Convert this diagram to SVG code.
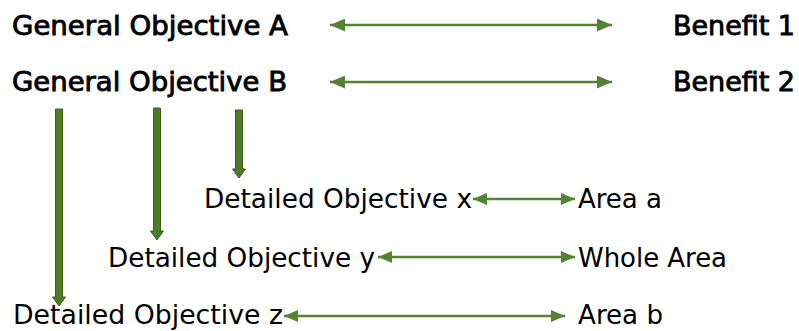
<svg xmlns="http://www.w3.org/2000/svg" width="799" height="331" viewBox="0 0 799 331">
<style>
text{font-family:"DejaVu Sans Condensed","DejaVu Sans",sans-serif;font-stretch:condensed;fill:#000}
.g{font-size:27px;stroke:#000;stroke-width:0.8}
.d{font-size:26px}
.h{stroke:#548235;stroke-width:2.5;fill:none}
.v{fill:#4f7b29;stroke:#3b5b1d;stroke-width:1}
</style>
<defs>
<marker id="ah" viewBox="0 0 15 13" refX="15" refY="6.5" markerWidth="15" markerHeight="13" markerUnits="userSpaceOnUse" orient="auto-start-reverse">
<path d="M0,0 L15,6.5 L0,13 Z" fill="#548235"/>
</marker>
<marker id="as" viewBox="0 0 14 12" refX="14" refY="6" markerWidth="14" markerHeight="12" markerUnits="userSpaceOnUse" orient="auto-start-reverse">
<path d="M0,0 L14,6 L0,12 Z" fill="#548235"/>
</marker>
</defs>
<g id="goA"><text class="g" x="12" y="35" textLength="276" lengthAdjust="spacingAndGlyphs">General Objective A</text></g>
<g id="goB"><text class="g" x="12" y="91" textLength="275" lengthAdjust="spacingAndGlyphs">General Objective B</text></g>
<g id="b1"><text class="g" x="673" y="35" textLength="122" lengthAdjust="spacingAndGlyphs">Benefit 1</text></g>
<g id="b2"><text class="g" x="673" y="91" textLength="122" lengthAdjust="spacingAndGlyphs">Benefit 2</text></g>
<g id="dx"><text class="d" x="204" y="208" textLength="268" lengthAdjust="spacingAndGlyphs">Detailed Objective x</text></g>
<g id="dy"><text class="d" x="108" y="267" textLength="267" lengthAdjust="spacingAndGlyphs">Detailed Objective y</text></g>
<g id="dz"><text class="d" x="13" y="324" textLength="270" lengthAdjust="spacingAndGlyphs">Detailed Objective z</text></g>
<g id="aa"><text class="d" x="578" y="208" textLength="84" lengthAdjust="spacingAndGlyphs">Area a</text></g>
<g id="wa"><text class="d" x="578" y="267" textLength="149" lengthAdjust="spacingAndGlyphs">Whole Area</text></g>
<g id="ab"><text class="d" x="578" y="324" textLength="85" lengthAdjust="spacingAndGlyphs">Area b</text></g>
<g id="connectors">
<line class="h" x1="330" y1="25" x2="612" y2="25" marker-start="url(#ah)" marker-end="url(#ah)"/>
<line class="h" x1="330" y1="82" x2="612" y2="82" marker-start="url(#ah)" marker-end="url(#ah)"/>
<line class="h" x1="473" y1="199" x2="575" y2="199" marker-start="url(#as)" marker-end="url(#as)"/>
<line class="h" x1="378" y1="257" x2="575" y2="257" marker-start="url(#as)" marker-end="url(#as)"/>
<line class="h" x1="284" y1="316" x2="565" y2="316" marker-start="url(#as)" marker-end="url(#as)"/>
<polygon class="v" points="55.5,109 62.5,109 62.5,297 65.5,297 59,306 52.5,297 55.5,297"/>
<polygon class="v" points="153.5,108 160.5,108 160.5,231 163.5,231 157,240 150.5,231 153.5,231"/>
<polygon class="v" points="235.5,110 242.5,110 242.5,169 245.5,169 239,178 232.5,169 235.5,169"/>
</g>
</svg>
